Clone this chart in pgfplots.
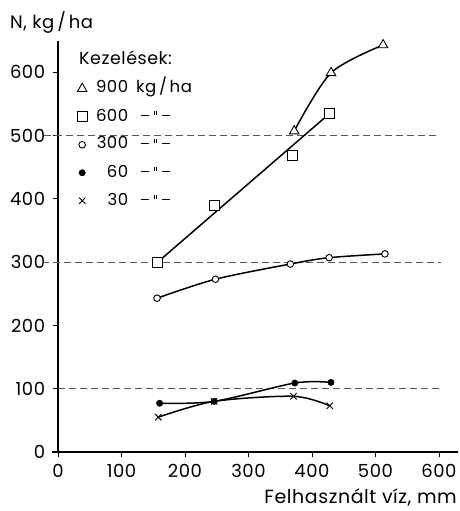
\documentclass[border=0pt]{standalone}
\usepackage{fontspec}
\setmainfont{Poppins}[LetterSpace=3]
\usepackage{pgfplots}
\pgfplotsset{compat=1.18}
\newcommand{\ditto}{\rule[0.3em]{8pt}{1pt}\kern5pt\rule[0.38em]{0.8pt}{3.5pt}\kern1.5pt\rule[0.38em]{0.8pt}{3.5pt}\kern5pt\rule[0.3em]{8pt}{1pt}}
\begin{document}
\fontsize{17}{20}\selectfont
\begin{tikzpicture}[x=1pt,y=1pt]
\path[use as bounding box] (0pt,0pt) rectangle (459pt,511pt);
\begin{axis}[
  at={(58pt,59pt)}, anchor=south west,
  scale only axis, width=400pt, height=411.4pt,
  xmin=0, xmax=630, ymin=0, ymax=650,
  axis x line=bottom, axis y line=left,
  axis line style={-, line width=1.1pt},
  xtick={0,100,...,600}, ytick={0,100,...,600},
  tick align=outside, major tick length=5pt,
  tick style={line width=0.9pt, black},
  clip=false,
  /pgf/number format/assume math mode=true,
  ticklabel style={font=\fontsize{18}{21}\selectfont},
  xticklabel style={yshift=-1pt},
  yticklabel style={xshift=-2pt},
  legend style={at={(0.04,0.912)}, anchor=north west, draw=none, fill=none,
     font=\fontsize{16.5}{19}\selectfont, row sep=8.5pt,
     nodes={text height=12pt, text depth=3.5pt}},
  legend cell align=left,
]
% reference dashed lines
\addplot[forget plot, gray!70!black, line width=0.8pt, dash pattern=on 7pt off 4pt] coordinates {(0,100) (603,100)};
\addplot[forget plot, gray!70!black, line width=0.8pt, dash pattern=on 7pt off 4pt] coordinates {(-25,300) (603,300)};
\addplot[forget plot, gray!70!black, line width=0.8pt, dash pattern=on 7pt off 4pt] coordinates {(-22,500) (600,500)};
% extension of x axis left of origin
\addplot[forget plot, black, line width=1.1pt] coordinates {(-9,0) (0,0)};
% lines
\addplot[forget plot, black, line width=1.5pt, smooth] coordinates {(372,507) (430,599) (512,643)};
\addplot[forget plot, black, line width=1.5pt] coordinates {(157,300) (428,535)};
\addplot[forget plot, black, line width=1.5pt, smooth] coordinates {(156,243) (248,273) (366,297) (427,307) (515,313)};
\addplot[forget plot, black, line width=1.5pt, smooth] coordinates {(160,77) (246,80) (373,109) (430,110)};
\addplot[forget plot, black, line width=1.5pt, smooth] coordinates {(158,55) (246,80) (371,88) (428,73)};
% markers
\addplot[only marks, mark=triangle*, mark size=5.5pt, mark options={fill=white, draw=black, line width=0.9pt}] coordinates {(372,507) (430,599) (512,643)};
\addlegendentry{\hspace{9pt}\makebox[30pt][r]{900}\hspace{8pt}kg\,/\,ha}
\addplot[only marks, mark=square*, mark size=5pt, mark options={fill=white, draw=black, line width=0.9pt}] coordinates {(157,300) (247,389) (369,468) (428,535)};
\addlegendentry{\hspace{9pt}\makebox[30pt][r]{600}\hspace{13pt}\ditto}
\addplot[only marks, mark=*, mark size=3.3pt, mark options={fill=white, draw=black, line width=0.9pt}] coordinates {(156,243) (248,273) (366,297) (427,307) (515,313)};
\addlegendentry{\hspace{9pt}\makebox[30pt][r]{300}\hspace{13pt}\ditto}
\addplot[only marks, mark=*, mark size=3.2pt, mark options={fill=black, draw=black}] coordinates {(160,77) (246,80) (373,109) (430,110)};
\addlegendentry{\hspace{9pt}\makebox[30pt][r]{60}\hspace{13pt}\ditto}
\addplot[only marks, mark=x, mark size=4.5pt, mark options={draw=black, line width=0.9pt}] coordinates {(158,55) (246,80) (371,88) (428,73)};
\addlegendentry{\hspace{9pt}\makebox[30pt][r]{30}\hspace{13pt}\ditto}
\end{axis}
\node[anchor=base west, inner sep=0pt, font=\fontsize{18}{21}\selectfont] at (10pt,482pt) {N, kg\,/\,ha};
\node[anchor=base west, inner sep=0pt, font=\fontsize{17.5}{21}\selectfont] at (79pt,446pt) {Kezelések:};
\node[anchor=base east, inner sep=0pt, font=\fontsize{19}{22}\selectfont] at (457pt,7pt) {Felhasznált víz, mm};
\end{tikzpicture}
\end{document}
